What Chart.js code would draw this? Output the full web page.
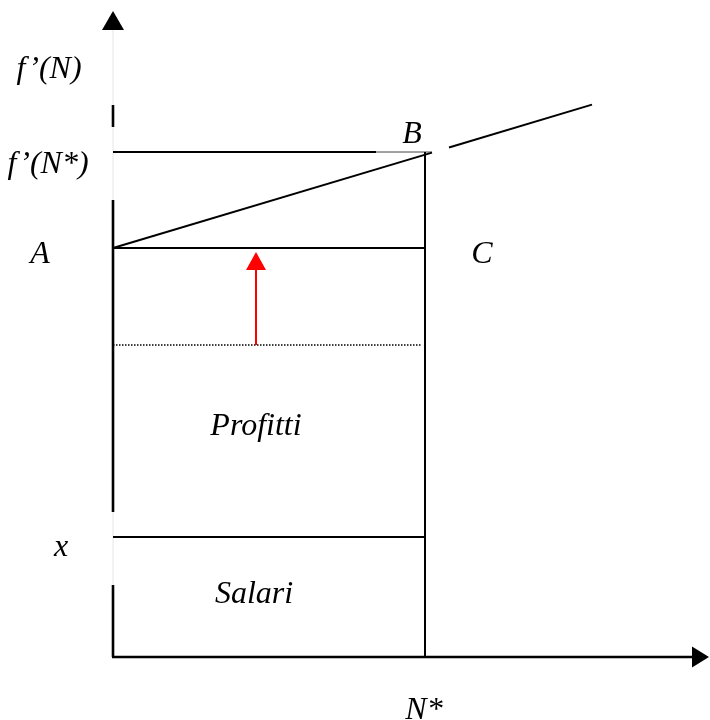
<!DOCTYPE html>
<html>
<head>
<meta charset="utf-8">
<script src="https://cdn.jsdelivr.net/npm/chart.js@4.4.1/dist/chart.umd.min.js"></script>
<style>
html,body{margin:0;padding:0;background:#fff;}
#wrap{width:710px;height:720px;}
</style>
</head>
<body>
<div id="wrap"><canvas id="c" width="710" height="720"></canvas></div>
<script>
// ---- values (arbitrary units, origin at axes' corner) ----
const nStar = 312;          // N*
const wageLevel = 120;      // x (salario)
const oldLevel = 312;       // dotted level before the shift
const levelA = 409;         // A – C
const levelFNStar = 505;    // f'(N*) – B
const mplX = [0, 319];      // f'(N) line, lower part
const mplY = [409, 504.4];
const mplX2 = [336, 479];   // f'(N) line, upper part
const mplY2 = [509.5, 552.4];
const fNStarSolidEnd = 263; // where the thick f'(N*) segment stops
const dottedEnd = 309;
const yAxisBlack = [[0, 72], [145, 457], [530, 552]]; // visible dark parts of the y axis
const yAxisTop = 646;
const xAxisEnd = 596;
const shiftX = 143;         // red arrow position
const shiftTip = 405;

function seg(x1, y1, x2, y2) { return [{x: x1, y: y1}, {x: x2, y: y2}]; }
function line(data, opts) {
  return Object.assign({data, showLine: true, pointRadius: 0, borderColor: '#000', borderWidth: 2, fill: false, clip: false}, opts || {});
}

const yAxisSegData = [];
yAxisBlack.forEach((s, i) => {
  if (i) yAxisSegData.push({x: 0, y: null});
  yAxisSegData.push({x: 0, y: s[0]}, {x: 0, y: s[1]});
});

const labels = [
  {t: 'f\u2019(N)', x: -64, y: 579},
  {t: 'f\u2019(N*)', x: -65, y: 484},
  {t: 'A', x: -73, y: 394},
  {t: 'B', x: 299, y: 514},
  {t: 'C', x: 369, y: 394},
  {t: 'x', x: -52, y: 101},
  {t: 'Profitti', x: 143, y: 222},
  {t: 'Salari', x: 141, y: 54},
  {t: 'N*', x: 311, y: -62}
];

const arrowPlugin = {
  id: 'decor',
  afterDatasetsDraw(chart) {
    const {ctx, scales: {x, y}} = chart;
    ctx.save();
    // y axis arrowhead
    const yx = x.getPixelForValue(0), yt = y.getPixelForValue(yAxisTop);
    ctx.fillStyle = '#000';
    ctx.beginPath();
    ctx.moveTo(yx, yt); ctx.lineTo(yx - 11, yt + 19); ctx.lineTo(yx + 11, yt + 19); ctx.closePath(); ctx.fill();
    // x axis arrowhead
    const xt = x.getPixelForValue(xAxisEnd), xy = y.getPixelForValue(0);
    ctx.beginPath();
    ctx.moveTo(xt, xy); ctx.lineTo(xt - 17, xy - 10.5); ctx.lineTo(xt - 17, xy + 10.5); ctx.closePath(); ctx.fill();
    // red arrowhead
    const rx = x.getPixelForValue(shiftX), rt = y.getPixelForValue(shiftTip);
    ctx.fillStyle = '#ff0000';
    ctx.beginPath();
    ctx.moveTo(rx, rt); ctx.lineTo(rx - 10, rt + 18); ctx.lineTo(rx + 10, rt + 18); ctx.closePath(); ctx.fill();
    // labels
    ctx.fillStyle = '#000';
    ctx.font = 'italic 32px "Liberation Serif", "Times New Roman", serif';
    ctx.textAlign = 'center';
    ctx.textBaseline = 'alphabetic';
    labels.forEach(l => ctx.fillText(l.t, x.getPixelForValue(l.x), y.getPixelForValue(l.y)));
    ctx.restore();
  }
};

// note: Chart.js paints the first dataset on top, so the faint axis trace is listed last
new Chart(document.getElementById('c'), {
  type: 'scatter',
  data: {
    datasets: [
      line(yAxisSegData, {spanGaps: false, borderWidth: 2.6}),
      line(seg(-1, 0, xAxisEnd - 17, 0), {borderWidth: 2.6}),
      line(seg(0, wageLevel, nStar, wageLevel)),
      line(seg(0, levelA, nStar, levelA)),
      line(seg(nStar, 0, nStar, levelFNStar)),
      line(seg(0, levelFNStar, fNStarSolidEnd, levelFNStar)),
      line(mplX.map((v, i) => ({x: v, y: mplY[i]}))),
      line(mplX2.map((v, i) => ({x: v, y: mplY2[i]}))),
      line(seg(shiftX, oldLevel, shiftX, shiftTip - 16), {borderColor: '#ff0000'}),
      line(seg(0, oldLevel, dottedEnd, oldLevel), {borderWidth: 1.6, borderDash: [1.5, 1.5]}),
      line(seg(fNStarSolidEnd, levelFNStar, mplX[1], levelFNStar), {borderWidth: 1, borderColor: '#444'}),
      line(seg(0, 0, 0, yAxisTop - 19), {borderColor: '#e6e6e6', borderWidth: 1})
    ]
  },
  options: {
    responsive: false,
    animation: false,
    layout: {padding: 0},
    plugins: {legend: {display: false}, tooltip: {enabled: false}, title: {display: false}},
    scales: {
      x: {type: 'linear', min: -113, max: 597, display: false},
      y: {type: 'linear', min: -63, max: 657, display: false}
    }
  },
  plugins: [arrowPlugin]
});
</script>
</body>
</html>
